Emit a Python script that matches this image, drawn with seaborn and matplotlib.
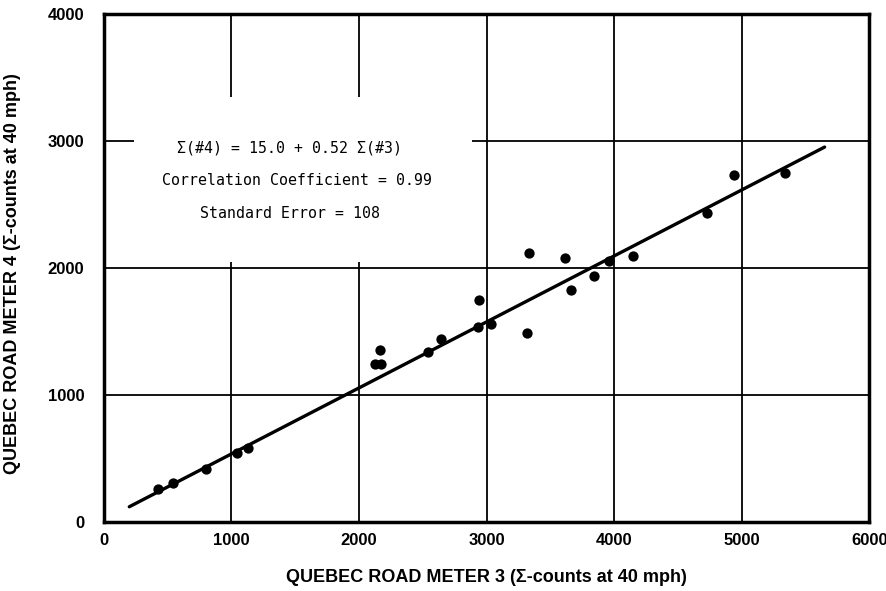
import numpy as np
import pandas as pd
import matplotlib
matplotlib.use("Agg")
import matplotlib.pyplot as plt
from matplotlib.patches import Rectangle
import seaborn as sns

# ---- data ----
meter3 = [426, 544, 805, 1046, 1132, 2125, 2170, 2165, 2539, 2643, 2941, 2931, 3035,
          3336, 3315, 3618, 3660, 3843, 3958, 4152, 4727, 4941, 5341]
meter4 = [260, 310, 415, 546, 580, 1244, 1244, 1354, 1339, 1438, 1748, 1538, 1559,
          2121, 1486, 2079, 1827, 1937, 2057, 2094, 2431, 2732, 2750]
fit_intercept = 15.0
fit_slope = 0.52
fit_x = [200, 5650]
x_ticks = [0, 1000, 2000, 3000, 4000, 5000, 6000]
y_ticks = [0, 1000, 2000, 3000, 4000]
eq_lines = ["Σ(#4) = 15.0 + 0.52 Σ(#3)",
            "Correlation Coefficient = 0.99",
            "Standard Error = 108"]
x_label = "QUEBEC ROAD METER 3 (Σ-counts at 40 mph)"
y_label = "QUEBEC ROAD METER 4 (Σ-counts at 40 mph)"

pts = pd.DataFrame({"m3": meter3, "m4": meter4})
fit = pd.DataFrame({"x": fit_x})
fit["y"] = fit_intercept + fit_slope * fit["x"]

sns.set_theme(style="white")
plt.rcParams["font.family"] = ["Liberation Sans", "DejaVu Sans"]

fig = plt.figure(figsize=(8.87, 5.91), dpi=100)
ax = fig.add_axes([0.117, 0.117, 0.863, 0.859])

sns.lineplot(data=fit, x="x", y="y", ax=ax, color="black", linewidth=2.4, zorder=2)
sns.scatterplot(data=pts, x="m3", y="m4", ax=ax, color="black", s=55,
                edgecolor="black", linewidth=0, zorder=3)

ax.set_xlim(0, 6000)
ax.set_ylim(0, 4000)
ax.set_xticks(x_ticks)
ax.set_yticks(y_ticks)
ax.set_xticklabels([str(t) for t in x_ticks], fontsize=12, fontweight="bold")
ax.set_yticklabels([str(t) for t in y_ticks], fontsize=12, fontweight="bold")
ax.tick_params(axis="x", length=0, pad=8, colors="black")
ax.tick_params(axis="y", length=0, pad=14, colors="black")

ax.grid(True, color="black", linewidth=1.3)
ax.set_axisbelow(True)
for sp in ax.spines.values():
    sp.set_visible(True)
    sp.set_color("black")
    sp.set_linewidth(2.5)

# white box behind the equation text (interrupts the grid)
ax.add_patch(Rectangle((0.04, 0.512), 0.441, 0.325, transform=ax.transAxes,
                       facecolor="white", edgecolor="none", zorder=1))

ys = [0.737, 0.672, 0.607]
xs = [0.243, 0.253, 0.243]
for t, xx, yy in zip(eq_lines, xs, ys):
    ax.text(xx, yy, t, transform=ax.transAxes, ha="center", va="center",
            fontsize=10.7, family=["DejaVu Sans Mono"], color="black", zorder=4)

ax.set_xlabel(x_label, fontsize=13, fontweight="bold", color="black")
ax.set_ylabel(y_label, fontsize=13, fontweight="bold", color="black")
ax.xaxis.set_label_coords(0.5, -0.092)
ax.yaxis.set_label_coords(-0.108, 0.49)

fig.savefig("out.png", dpi=100)
